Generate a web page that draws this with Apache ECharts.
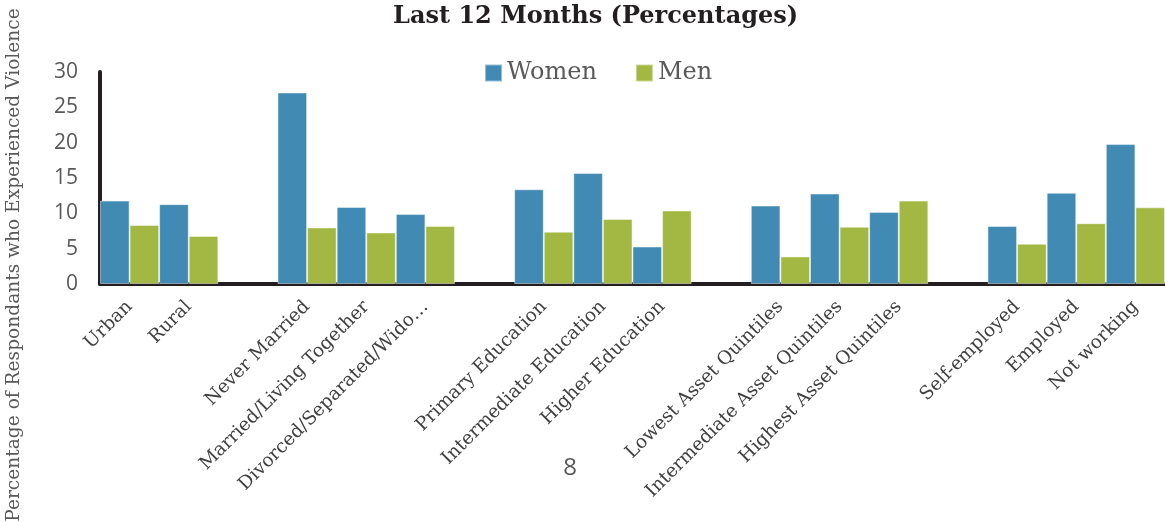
<!DOCTYPE html>
<html>
<head>
<meta charset="utf-8">
<script src="https://cdn.jsdelivr.net/npm/echarts@6/dist/echarts.min.js"></script>
<style>
  html, body { margin: 0; padding: 0; background: #fff; }
  #chart { width: 1165px; height: 522px; }
</style>
</head>
<body>
<div id="chart"></div>
<script>
// blank entries are the gaps between groups
const categories = [
  'Urban', 'Rural', ' ',
  'Never Married', 'Married/Living Together', 'Divorced/Separated/Wido…', '  ',
  'Primary Education', 'Intermediate Education', 'Higher Education', '   ',
  'Lowest Asset Quintiles', 'Intermediate Asset Quintiles', 'Highest Asset Quintiles', '    ',
  'Self-employed', 'Employed', 'Not working'
];
const women = [11.8, 11.3, null, 27.1, 10.9, 9.9, null, 13.4, 15.7, 5.3, null, 11.1, 12.8, 10.2, null, 8.2, 12.9, 19.8];
const men = [8.35, 6.8, null, 8.0, 7.3, 8.2, null, 7.4, 9.2, 10.4, null, 3.9, 8.1, 11.8, null, 5.7, 8.6, 10.85];
const yTicks = [0, 5, 10, 15, 20, 25, 30];

const serif = '"DejaVu Serif", serif';
const sans = '"Open Sans", sans-serif';

const chart = echarts.init(document.getElementById('chart'), null, { renderer: 'canvas' });

const option = {
  animation: false,
  title: {
    text: 'Last 12 Months (Percentages)',
    left: 388,
    top: 0,
    textStyle: { fontFamily: serif, fontWeight: 'bold', fontSize: 24, color: '#231f20' }
  },
  legend: {
    left: 479,
    top: 56,
    icon: 'rect',
    itemWidth: 17,
    itemHeight: 17,
    itemGap: 38,
    textStyle: { fontFamily: serif, fontSize: 24, color: '#595959' },
    data: ['Women', 'Men']
  },
  grid: { left: 100, top: 72, width: 1070, bottom: 238, containLabel: false },
  xAxis: {
    type: 'category',
    data: categories,
    axisTick: { show: false },
    axisLine: { lineStyle: { color: '#231f20', width: 4 } },
    axisLabel: {
      interval: 0,
      rotate: 45,
      margin: 20,
      fontFamily: serif,
      fontSize: 18.5,
      color: '#404040'
    }
  },
  yAxis: {
    type: 'value',
    min: yTicks[0],
    max: yTicks[yTicks.length - 1],
    interval: 5,
    splitLine: { show: false },
    axisTick: { show: false },
    axisLine: { show: true, lineStyle: { color: '#231f20', width: 4 } },
    axisLabel: { margin: 22, fontFamily: sans, fontSize: 21, color: '#595959' }
  },
  series: [
    {
      name: 'Women',
      type: 'bar',
      data: women,
      barGap: '0%',
      barCategoryGap: '0%',
      itemStyle: { color: '#418ab3', borderColor: 'rgba(255,255,255,0.45)', borderWidth: 1 }
    },
    {
      name: 'Men',
      type: 'bar',
      data: men,
      barGap: '0%',
      barCategoryGap: '0%',
      itemStyle: { color: '#a2b842', borderColor: 'rgba(255,255,255,0.45)', borderWidth: 1 }
    }
  ],
  graphic: [
    {
      type: 'text',
      x: 14,
      y: 265,
      rotation: Math.PI / 2,
      style: {
        text: 'Percentage of Respondants who Experienced Violence',
        font: '18.6px ' + serif,
        fill: '#595959',
        textAlign: 'center',
        textVerticalAlign: 'middle'
      }
    },
    {
      type: 'text',
      x: 570,
      y: 468,
      style: {
        text: '8',
        font: '24px ' + sans,
        fill: '#595959',
        textAlign: 'center',
        textVerticalAlign: 'middle'
      }
    }
  ]
};

chart.setOption(option);
</script>
</body>
</html>
